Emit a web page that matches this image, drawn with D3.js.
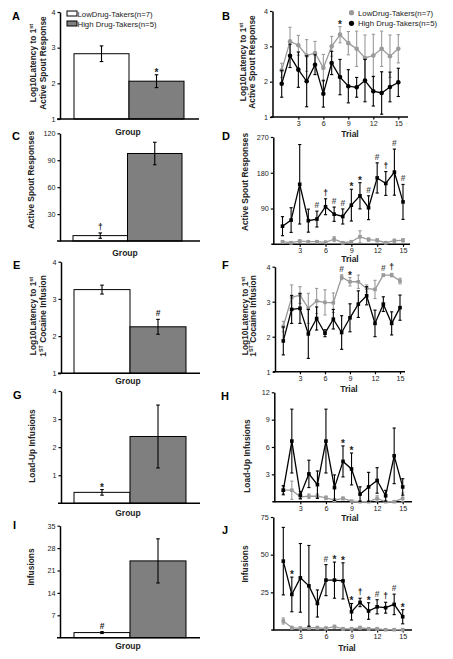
<!DOCTYPE html>
<html><head><meta charset="utf-8">
<script src="https://cdn.jsdelivr.net/npm/d3@7"></script>
<style>body{margin:0;background:#fff}</style>
</head><body><svg id="c" width="453" height="659"></svg>
<script>
// ---------- DATA ----------
const groups = ["LowDrug-Takers(n=7)", "High Drug-Takers(n=5)"];
const trials = [1,2,3,4,5,6,7,8,9,10,11,12,13,14,15];
const trialTicks = [3,6,9,12,15];

// A: Log10 latency to 1st active spout response (bars)
const aMean = [2.83, 2.06];
const aErr  = [0.22, 0.18];
const aTicks = [1,2,3,4];
// C: Active spout responses (bars)
const cMean = [6, 97.5];
const cErr  = [3, 12.5];
const cTicks = [30,60,90,120];
// E: Log10 latency to 1st cocaine infusion (bars)
const eMean = [3.25, 2.25];
const eErr  = [0.12, 0.2];
const eTicks = [1,2,3,4];
// G: Load-up infusions (bars)
const gMean = [0.39, 2.38];
const gErr  = [0.1, 1.12];
const gTicks = [1,2,3,4];
// I: Infusions (bars)
const iMean = [1.6, 24.0];
const iErr  = [0.3, 6.9];
const iTicks = [7,14,21,28,35];

// B: latency to 1st active spout response by trial
const bLow     = [2.32,3.14,3.03,2.74,2.81,2.39,3.00,3.33,3.09,2.93,2.67,2.74,2.93,2.72,2.93];
const bLowErr  = [0.20,0.40,0.28,0.45,0.33,0.38,0.28,0.23,0.33,0.50,0.65,0.60,0.50,0.60,0.40];
const bHigh    = [1.94,2.73,2.34,2.01,2.48,1.66,2.53,2.13,1.87,1.84,2.03,1.73,1.68,1.85,1.98];
const bHighErr = [0.38,0.33,0.50,0.72,0.28,0.38,0.33,0.50,0.47,0.28,0.60,0.42,0.60,0.42,0.40];
const bTicks = [1,2,3,4];
// D: active spout responses by trial
const dLow     = [6.5,4,8,6.5,6.5,5,13,4,6.5,19,12,10,4,9,10];
const dLowErr  = [3,3,3,3,3,3,6,3,3,15,4,4,3,4,4];
const dHigh    = [45.6,61,151,59.5,63.5,94.5,75.7,70,98.5,122,92,167,153,181.6,106.7];
const dHighErr = [24,31,100,29,20,20,18,19,40,33,30,38,30,58,44];
const dTicks = [90,180,270];
// F: latency to 1st cocaine infusion by trial
const fLow     = [2.29,3.12,3.19,2.81,3.02,2.98,2.97,3.70,3.57,3.57,3.38,3.35,3.76,3.76,3.59];
const fLowErr  = [0.15,0.36,0.24,0.43,0.36,0.36,0.28,0.07,0.12,0.19,0.10,0.26,0.03,0.05,0.08];
const fHigh    = [1.88,2.78,2.81,2.08,2.52,2.10,2.50,2.12,2.54,2.93,3.17,2.38,2.93,2.38,2.83];
const fHighErr = [0.40,0.40,0.43,0.70,0.33,0.10,0.28,0.48,0.40,0.38,0.26,0.38,0.21,0.33,0.36];
const fTicks = [1,2,3,4];
// H: load-up infusions by trial
const hLow     = [1.26,1.26,0.54,0.60,0.60,0.43,0.18,0.36,0.07,0,0,0.36,0,0,0.36];
const hLowErr  = [0.4,1.0,0.25,0.25,0.25,0.2,0.15,0.15,0.05,0,0,0.3,0,0,0.6];
const hHigh    = [1.26,6.65,0.72,3.05,1.87,6.65,1.54,4.42,3.59,0.83,1.62,2.33,0.65,5.03,1.62];
const hHighErr = [0.5,3.5,0.4,1.5,1.5,3.5,1.4,1.7,1.75,0.8,1.6,1.4,0.6,3.05,0.9];
const hTicks = [3,6,9,12];
// J: infusions by trial
const jLow     = [6,1.5,1.1,1.5,1.5,1.1,2.2,0.7,0.7,1.5,0.7,0.7,0.2,0.2,0.2];
const jLowErr  = [2,1,1,1,1,1,1,1,1,1,1,1,0.5,0.5,0.5];
const jHigh    = [45.7,23.6,34.6,29.3,17.6,33.1,33.1,32.6,12.1,18.3,12.6,15.4,14.8,17.0,8.8];
const jHighErr = [22.4,11.5,22.8,26.8,9,10.3,12,12,5.5,2.8,5.5,4.7,3.6,6.8,4.7];
const jTicks = [25,50,75];

// significance markers: [trial, symbol, series above which it sits]
const bSig = [[8,"*","low"]];
const dSig = [[5,"#","high"],[6,"†","high"],[7,"#","high"],[8,"#","high"],[9,"*","high"],[10,"*","high"],
              [11,"#","high"],[12,"#","high"],[13,"†","high"],[14,"#","high"],[15,"#","high"]];
const fSig = [[8,"#","low"],[9,"*","low"],[13,"#","low"],[14,"†","low"]];
const hSig = [[8,"*","high"],[9,"*","high"]];
const jSig = [[2,"*","high"],[6,"#","high"],[7,"*","high"],[8,"*","high"],[9,"*","high"],[10,"†","high"],
              [11,"*","high"],[12,"#","high"],[13,"†","high"],[14,"#","high"],[15,"*","high"]];
// bar markers: [bar index, symbol]
const aSig = [[1,"*"]], cSig = [[0,"†"]], eSig = [[1,"#"]], gSig = [[0,"*"]], iSig = [[0,"#"]];

// ---------- DRAWING ----------
const FONT = "'Liberation Sans', Arial, Helvetica, sans-serif";
const svg = d3.select("#c");
const LOWC = "#9a9a9a", HIGHC = "#000", BARG = "#7f7f7f";
const fmt = d3.format("d");

function yAxis(y, x, ticks){
  const g = svg.append("g").attr("transform", `translate(${x},0)`)
    .call(d3.axisLeft(y).tickValues(ticks).tickFormat(fmt).tickSize(2.5).tickSizeOuter(0).tickPadding(2));
  g.select(".domain").attr("stroke-width", 1.5);
  g.selectAll(".tick line").attr("stroke-width", 1.2);
  g.selectAll("text").attr("font-size", 7.2).attr("font-family", FONT).attr("fill","#222");
}
function hLine(x1, x2, y){
  svg.append("line").attr("x1", x1).attr("x2", x2).attr("y1", y).attr("y2", y)
    .attr("stroke", "#000").attr("stroke-width", 1.5);
}
function letter(t, x, y){
  svg.append("text").attr("x", x).attr("y", y).text(t).attr("font-family", FONT)
    .attr("font-weight", "bold").attr("font-size", 11);
}
function xLabel(t, x, y){
  svg.append("text").attr("x", x).attr("y", y).text(t).attr("font-family", FONT)
    .attr("font-weight", "bold").attr("font-size", 8.5).attr("text-anchor", "middle").attr("fill","#222");
}
function yLabel(lines, xs, cy){
  lines.forEach((ln, i) => {
    const t = svg.append("text").attr("transform", `translate(${xs[i]},${cy}) rotate(-90)`)
      .attr("font-family", FONT).attr("font-weight", "bold").attr("font-size", 8.4)
      .attr("text-anchor", "middle").attr("fill","#222");
    ln.forEach(seg => {
      const s = t.append("tspan").text(seg[0]);
      if (seg[1]) s.attr("baseline-shift", "super").attr("font-size", 5.5);
    });
  });
}
function errBar(x, y1, y2, color, w){
  const g = svg.append("g").attr("stroke", color).attr("stroke-width", 1.1);
  g.append("line").attr("x1", x).attr("x2", x).attr("y1", y1).attr("y2", y2);
  g.append("line").attr("x1", x - w).attr("x2", x + w).attr("y1", y1).attr("y2", y1);
  g.append("line").attr("x1", x - w).attr("x2", x + w).attr("y1", y2).attr("y2", y2);
}
function sym(s, x, y, color){
  svg.append("text").attr("x", x).attr("y", y).text(s).attr("text-anchor", "middle")
    .attr("font-family", FONT).attr("font-weight", "bold")
    .attr("font-size", s === "*" ? 10 : 8.5).attr("fill", color);
}

function barPanel(p){
  const y = d3.scaleLinear().domain(p.domain).range([p.yB, p.yT]);
  const x = d3.scaleBand().domain(groups).range([p.bx0, p.bx1]).padding(0);
  const base = y(p.domain[0]);
  svg.append("g").selectAll("rect").data(groups).join("rect")
    .attr("x", d => x(d)).attr("width", x.bandwidth())
    .attr("y", (d, i) => y(p.mean[i])).attr("height", (d, i) => base - y(p.mean[i]))
    .attr("fill", (d, i) => i === 0 ? "#fff" : BARG).attr("stroke", "#000").attr("stroke-width", 1);
  groups.forEach((g, i) => errBar(x(g) + x.bandwidth() / 2, y(p.mean[i] + p.err[i]),
      y(Math.max(p.domain[0], p.mean[i] - p.err[i])), "#000", 1.8));
  hLine(p.ax - 3, p.xEnd, base);
  yAxis(y, p.ax, p.ticks);
  p.sig.forEach(([i, s]) => sym(s, x(groups[i]) + x.bandwidth() / 2,
      y(p.mean[i] + p.err[i]) - (s === "*" ? -1 : 3), "#222"));
}

function linePanel(p){
  const y = d3.scaleLinear().domain(p.domain).range([p.yB, p.yT]);
  const x = d3.scaleLinear().domain([trials[0], trials[trials.length - 1]]).range([p.tx0, p.tx1]);
  const base = y(p.domain[0]);
  hLine(p.ax - 2, p.xEnd, base);
  const xa = svg.append("g").attr("transform", `translate(0,${base})`)
    .call(d3.axisBottom(x).tickValues(trialTicks).tickSize(2.5).tickPadding(1.5).tickFormat(fmt));
  xa.select(".domain").remove();
  xa.selectAll(".tick line").attr("stroke-width", 1.2);
  xa.selectAll("text").attr("font-size", 7.2).attr("font-family", FONT).attr("fill","#222");
  yAxis(y, p.ax, p.ticks);
  const series = [[p.low, p.lowErr, LOWC], [p.high, p.highErr, HIGHC]];
  series.forEach(([m, e, c]) => {
    trials.forEach((t, i) => { if (e[i] > 0) errBar(x(t), y(m[i] + e[i]), y(Math.max(p.domain[0], m[i] - e[i])), c, 1.6); });
    svg.append("path").datum(m).attr("fill", "none").attr("stroke", c).attr("stroke-width", 1.3)
      .attr("d", d3.line().x((d, i) => x(trials[i])).y(d => y(d)));
    if (p.round) {
      svg.append("g").selectAll("circle").data(m).join("circle")
        .attr("cx", (d, i) => x(trials[i])).attr("cy", d => y(d)).attr("r", 2.3).attr("fill", c);
    } else {
      svg.append("g").selectAll("rect").data(m).join("rect")
        .attr("x", (d, i) => x(trials[i]) - 1.8).attr("y", d => y(d) - 1.8)
        .attr("width", 3.6).attr("height", 3.6).attr("fill", c);
    }
  });
  p.sig.forEach(([t, s, ser]) => {
    const i = trials.indexOf(t);
    const m = ser === "low" ? p.low : p.high, e = ser === "low" ? p.lowErr : p.highErr;
    sym(s, x(t), y(m[i] + e[i]) - (s === "*" ? -1 : 3), s === "#" ? "#555" : "#222");
  });
}

// ----- left column (bars)
barPanel({domain:[1,4], yB:119, yT:12, ax:60, xEnd:199, bx0:74, bx1:184, mean:aMean, err:aErr, ticks:aTicks, sig:aSig});
barPanel({domain:[0,120], yB:241, yT:133.3, ax:60, xEnd:200, bx0:73, bx1:182, mean:cMean, err:cErr, ticks:cTicks, sig:cSig});
barPanel({domain:[1,4], yB:373.3, yT:261.7, ax:61, xEnd:200, bx0:74, bx1:186, mean:eMean, err:eErr, ticks:eTicks, sig:eSig});
barPanel({domain:[0,4], yB:503.3, yT:391, ax:61, xEnd:200, bx0:74, bx1:186, mean:gMean, err:gErr, ticks:gTicks, sig:gSig});
barPanel({domain:[0,35], yB:637.7, yT:525.7, ax:60, xEnd:200, bx0:74, bx1:186, mean:iMean, err:iErr, ticks:iTicks, sig:iSig});

// ----- right column (lines)
linePanel({domain:[1,4], yB:117, yT:11, ax:272.5, xEnd:408, tx0:281.7, tx1:398.3, low:bLow, lowErr:bLowErr, high:bHigh, highErr:bHighErr, ticks:bTicks, sig:bSig, round:true});
linePanel({domain:[0,270], yB:244.3, yT:137, ax:273.3, xEnd:410, tx0:282.5, tx1:403, low:dLow, lowErr:dLowErr, high:dHigh, highErr:dHighErr, ticks:dTicks, sig:dSig});
linePanel({domain:[1,4], yB:371.7, yT:266.7, ax:275, xEnd:405, tx0:283.3, tx1:400, low:fLow, lowErr:fLowErr, high:fHigh, highErr:fHighErr, ticks:fTicks, sig:fSig});
linePanel({domain:[0,12], yB:501.7, yT:392.3, ax:274.3, xEnd:412, tx0:283.3, tx1:402.7, low:hLow, lowErr:hLowErr, high:hHigh, highErr:hHighErr, ticks:hTicks, sig:hSig});
linePanel({domain:[0,75], yB:630, yT:517, ax:273.3, xEnd:412, tx0:283.3, tx1:402.7, low:jLow, lowErr:jLowErr, high:jHigh, highErr:jHighErr, ticks:jTicks, sig:jSig});

// ----- legends
[[0, 11], [1, 21]].forEach(([i, yy]) => {
  svg.append("rect").attr("x", 67).attr("y", yy).attr("width", 10).attr("height", 5)
    .attr("fill", i === 0 ? "#fff" : BARG).attr("stroke", "#000").attr("stroke-width", 1);
  svg.append("text").attr("x", 77.5).attr("y", yy + 5.5).text(groups[i])
    .attr("font-family", FONT).attr("font-size", 7.8).attr("fill","#222");
});
[[0, 12.7], [1, 23.3]].forEach(([i, yy]) => {
  svg.append("circle").attr("cx", 351.5).attr("cy", yy).attr("r", 2.6).attr("fill", i === 0 ? LOWC : HIGHC);
  svg.append("text").attr("x", 358).attr("y", yy + 2.8).text(groups[i])
    .attr("font-family", FONT).attr("font-size", 7.8).attr("fill","#222");
});

// ----- panel letters
[["A",12,19.5],["B",222,20],["C",12,140],["D",222,140],["E",13,269],["F",222,269],
 ["G",13,399],["H",221,400],["I",13,529],["J",222,534]].forEach(d => letter(...d));

// ----- axis titles
xLabel("Group", 128, 135); xLabel("Group", 125, 256); xLabel("Group", 128, 384);
xLabel("Group", 128, 516); xLabel("Group", 128, 649);
xLabel("Trial", 350, 137); xLabel("Trial", 350, 262); xLabel("Trial", 349, 391.5);
xLabel("Trial", 350, 521); xLabel("Trial", 347, 651);

yLabel([[["Log10Latency to 1"],["st",1]], [["Active Spout Response"]]], [36, 46], 63);
yLabel([[["Log10Latency to 1"],["st",1]], [["Active Spout Response"]]], [246, 255], 62);
yLabel([[["Active Spout Responses"]]], [34, 0], 180);
yLabel([[["Active Spout Responses"]]], [248, 0], 182);
yLabel([[["Log10Latency to 1"],["st",1]], [["1"],["ST",1],[" Cocaine Infusion"]]], [36, 46], 316);
yLabel([[["Log10Latency to 1"],["st",1]], [["1"],["ST",1],[" Cocaine Infusion"]]], [248, 256], 316);
yLabel([[["Load-Up Infusions"]]], [35, 0], 446);
yLabel([[["Load-Up Infusions"]]], [250, 0], 456);
yLabel([[["Infusions"]]], [34, 0], 567);
yLabel([[["Infusions"]]], [248, 0], 564);
</script></body></html>
